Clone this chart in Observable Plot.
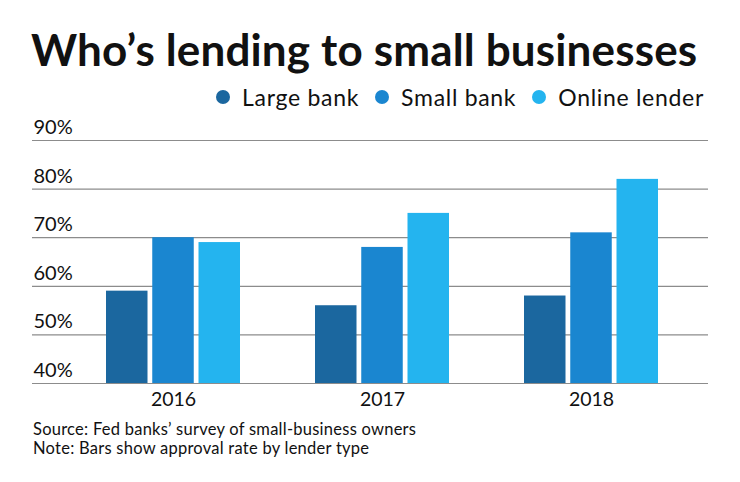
<!DOCTYPE html>
<html>
<head>
<meta charset="utf-8">
<script src="https://cdn.jsdelivr.net/npm/d3@7"></script>
<script src="https://cdn.jsdelivr.net/npm/@observablehq/plot@0.6"></script>
<style>
  html, body { margin: 0; padding: 0; background: #fff; }
  body { width: 740px; height: 482px; position: relative; overflow: hidden; font-family: Lato, "Noto Sans", sans-serif; color: #111; }
  #title { position: absolute; left: 31px; top: 23px; font-size: 44px; font-weight: 700; letter-spacing: 0.15px; white-space: nowrap; line-height: 52px; }
  #legend { position: absolute; right: 36px; top: 84px; display: flex; align-items: center; font-size: 23px; letter-spacing: 0.7px; line-height: 26px; white-space: nowrap; }
  .item { display: flex; align-items: center; margin-left: 16px; }
  .dot { width: 14px; height: 14px; border-radius: 50%; margin-right: 12px; }
  #chart { position: absolute; left: 0; top: 110px; }
  #footer { position: absolute; left: 33px; top: 420px; font-size: 16.5px; letter-spacing: 0.25px; line-height: 19px; }
</style>
</head>
<body>
<div id="title">Who’s lending to small businesses</div>
<div id="legend"></div>
<div id="chart"></div>
<div id="footer"><div>Source: Fed banks’ survey of small-business owners</div><div>Note: Bars show approval rate by lender type</div></div>
<script>
const years = ["2016", "2017", "2018"];
const types = ["Large bank", "Small bank", "Online lender"];
const largeBank = [59, 56, 58];
const smallBank = [70, 68, 71];
const onlineLender = [69, 75, 82];
const colors = ["#1b679f", "#1a86d0", "#24b4ef"];
const yTicks = [40, 50, 60, 70, 80, 90];

const series = [largeBank, smallBank, onlineLender];
const rows = [];
types.forEach((t, ti) => years.forEach((y, yi) => rows.push({year: y, type: t, value: series[ti][yi]})));

// legend
const legend = document.getElementById("legend");
types.forEach((t, i) => {
  const item = document.createElement("div");
  item.className = "item";
  const dot = document.createElement("span");
  dot.className = "dot";
  dot.style.background = colors[i];
  const label = document.createElement("span");
  label.textContent = t;
  item.appendChild(dot);
  item.appendChild(label);
  legend.appendChild(item);
});

const bw = 135, bar = 42.5;
const insets = [
  {insetLeft: 0, insetRight: bw - bar},
  {insetLeft: (bw - bar) / 2, insetRight: (bw - bar) / 2},
  {insetLeft: bw - bar, insetRight: 0}
];

const chart = Plot.plot({
  width: 740,
  height: 305,
  marginLeft: 32,
  marginRight: 32,
  marginTop: 30,
  marginBottom: 32,
  style: {fontFamily: "Lato, 'Noto Sans', sans-serif", color: "#111", background: "#fff"},
  x: {type: "band", domain: years, range: [104.5, 659.5], paddingInner: 0.357, paddingOuter: 0},
  y: {domain: [40, 90]},
  color: {domain: types, range: colors},
  marks: [
    Plot.ruleY(yTicks, {stroke: "#8c8c8c", strokeWidth: 1.2}),
    ...types.map((t, i) => Plot.barY(rows.filter(d => d.type === t), {
      x: "year", y1: 40, y2: "value", fill: colors[i], ...insets[i]
    })),
    Plot.axisY(yTicks, {tickSize: 0, tickPadding: 0, textAnchor: "start", dx: 1, dy: -13, tickFormat: d => d + "%", fontSize: 20, fill: "#111", label: null, style: {letterSpacing: "0.8px"}}),
    Plot.axisX({tickSize: 0, tickPadding: 9, fontSize: 19.5, fill: "#111", label: null})
  ]
});
document.getElementById("chart").appendChild(chart);
</script>
</body>
</html>
